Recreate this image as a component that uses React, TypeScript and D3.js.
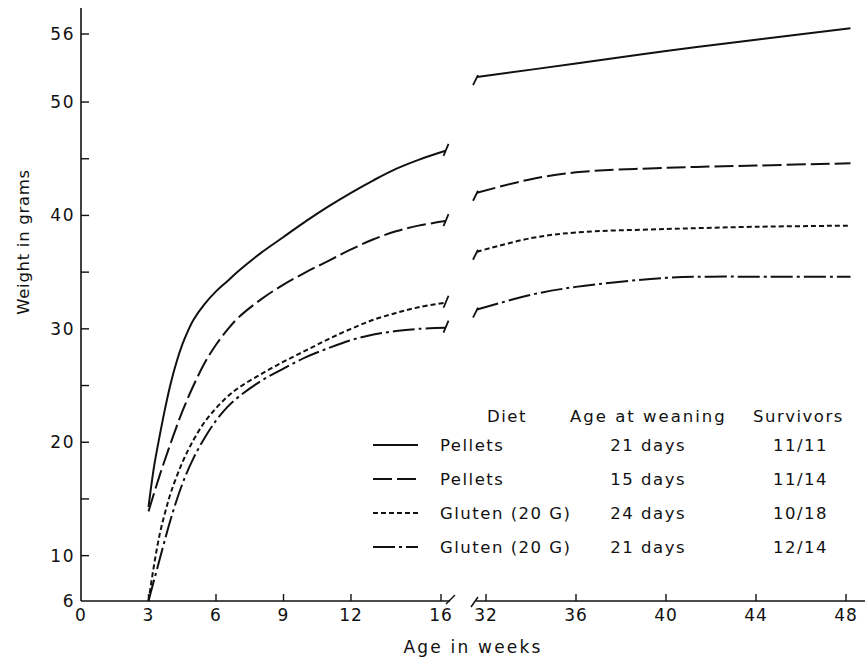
import React from "react";
import * as d3 from "d3";

const W = 865;
const H = 661;

// weeks, grams
const pellets21Left: [number, number][] = [
  [3, 14.3], [3.25, 17.9], [3.5, 20.6], [3.75, 23.1], [4, 25.3], [4.25, 27.1],
  [4.5, 28.6], [4.75, 29.8], [5, 30.8], [5.5, 32.2], [6, 33.3], [6.5, 34.2],
  [7, 35.1], [8, 36.7], [9, 38.1], [10, 39.5], [11, 40.8], [12, 42.0], [13, 43.1],
  [14, 44.1], [15, 44.9], [16.2, 45.7],
];
const pellets21Right: [number, number][] = [
  [31.6, 52.2], [36, 53.4], [40, 54.5], [44, 55.5], [48.2, 56.5],
];
const pellets15Left: [number, number][] = [
  [3, 13.9], [3.5, 17.1], [4, 20.0], [4.5, 22.7], [5, 25.0], [5.5, 27.0], [6, 28.6],
  [6.5, 29.9], [7, 31.0], [8, 32.6], [9, 33.9], [10, 35.0], [11, 36.0], [12, 37.0],
  [13, 37.9], [14, 38.6], [15, 39.1], [16.2, 39.5],
];
const pellets15Right: [number, number][] = [
  [31.6, 42.0], [34, 43.2], [36, 43.8], [40, 44.2], [44, 44.4], [48.2, 44.6],
];
const gluten24Left: [number, number][] = [
  [3, 6], [3.25, 9.2], [3.5, 11.9], [3.75, 13.9], [4, 15.6], [4.5, 18.2], [5, 20.2],
  [5.5, 21.8], [6, 23.0], [6.5, 24.0], [7, 24.8], [8, 26.0], [9, 27.1], [10, 28.1],
  [11, 29.1], [12, 30.0], [13, 30.8], [14, 31.4], [15, 31.9], [16.2, 32.3],
];
const gluten24Right: [number, number][] = [
  [31.6, 36.8], [34, 38.0], [36, 38.5], [40, 38.8], [44, 39.0], [48.2, 39.1],
];
const gluten21Left: [number, number][] = [
  [3, 6], [3.5, 9.7], [4, 13.3], [4.5, 16.3], [5, 18.6], [5.5, 20.4], [6, 21.9],
  [6.5, 23.1], [7, 24.0], [8, 25.4], [9, 26.5], [10, 27.5], [11, 28.3], [12, 29.0],
  [13, 29.5], [14, 29.8], [15, 30.0], [16.2, 30.1],
];
const gluten21Right: [number, number][] = [
  [31.6, 31.7], [34, 33.0], [36, 33.7], [40, 34.5], [42, 34.6], [44, 34.6], [48.2, 34.6],
];

const diets = ["Pellets", "Pellets", "Gluten (20 G)", "Gluten (20 G)"];
const weaningAges = ["21 days", "15 days", "24 days", "21 days"];
const survivors = ["11/11", "11/14", "10/18", "12/14"];

const xTicksLeft = [0, 3, 6, 9, 12, 16];
const xTicksRight = [32, 36, 40, 44, 48];
const yTicksMajor = [6, 10, 20, 30, 40, 50, 56];
const yTicksMinor = [15, 25, 35, 45];

const dashes = ["", "19 5", "5 3", "22 4 3 4"];

const series = [
  { left: pellets21Left, right: pellets21Right },
  { left: pellets15Left, right: pellets15Right },
  { left: gluten24Left, right: gluten24Right },
  { left: gluten21Left, right: gluten21Right },
];

const font = "'DejaVu Sans', sans-serif";
const ink = "#111";

export default function App() {
  const xL = d3.scaleLinear().domain([0, 16]).range([81, 441]);
  const xR = d3.scaleLinear().domain([32, 48]).range([486, 846]);
  const y = d3.scaleLinear().domain([6, 56]).range([601, 34]);

  const lineL = d3
    .line<[number, number]>()
    .x((d) => xL(d[0]))
    .y((d) => y(d[1]))
    .curve(d3.curveCatmullRom.alpha(0.5));
  const lineR = d3
    .line<[number, number]>()
    .x((d) => xR(d[0]))
    .y((d) => y(d[1]))
    .curve(d3.curveCatmullRom.alpha(0.5));

  const y0 = y(6);

  return (
    <svg
      width={W}
      height={H}
      style={{ position: "absolute", left: 0, top: 0, background: "#fff" }}
      fontFamily={font}
      fill={ink}
    >
      {/* y axis */}
      <line x1={81} x2={81} y1={y0} y2={y(58.3)} stroke={ink} strokeWidth={1.6} />
      {yTicksMajor.concat(yTicksMinor)
        .filter((t) => t !== 6)
        .map((t) => (
          <line key={"yt" + t} x1={81} x2={89} y1={y(t)} y2={y(t)} stroke={ink} strokeWidth={1.4} />
        ))}
      {yTicksMajor.map((t) => (
        <text key={"yl" + t} x={75} y={y(t) + 6} fontSize={17} textAnchor="end" letterSpacing={1.5}>
          {t}
        </text>
      ))}

      {/* x axis, broken */}
      <line x1={81} x2={450} y1={y0} y2={y0} stroke={ink} strokeWidth={1.6} />
      <line x1={476} x2={865} y1={y0} y2={y0} stroke={ink} strokeWidth={1.6} />
      <line x1={446} x2={455} y1={y0 + 3} y2={y0 - 6} stroke={ink} strokeWidth={1.5} />
      <line x1={471} x2={478} y1={y0 + 6} y2={y0 - 4} stroke={ink} strokeWidth={1.5} />
      {xTicksLeft
        .filter((t) => t !== 0)
        .map((t) => (
          <line key={"xt" + t} x1={xL(t)} x2={xL(t)} y1={y0} y2={y0 - 7} stroke={ink} strokeWidth={1.4} />
        ))}
      {xTicksRight.map((t) => (
        <line key={"xr" + t} x1={xR(t)} x2={xR(t)} y1={y0} y2={y0 - 7} stroke={ink} strokeWidth={1.4} />
      ))}
      {xTicksLeft.map((t) => (
        <text key={"xl" + t} x={xL(t)} y={621} fontSize={17} textAnchor="middle" letterSpacing={1}>
          {t}
        </text>
      ))}
      {xTicksRight.map((t) => (
        <text key={"xrl" + t} x={xR(t)} y={621} fontSize={17} textAnchor="middle" letterSpacing={1}>
          {t}
        </text>
      ))}

      {/* axis titles */}
      <text x={473} y={653} fontSize={17} textAnchor="middle" letterSpacing={2.2}>
        Age in weeks
      </text>
      <text
        transform="translate(29,242) rotate(-90)"
        fontSize={16.5}
        textAnchor="middle"
        letterSpacing={0.7}
      >
        Weight in grams
      </text>

      {/* curves */}
      {series.map((s, i) => {
        const a = s.left[s.left.length - 1];
        const b = s.right[0];
        const ax = xL(a[0]);
        const ay = y(a[1]);
        const bx = xR(b[0]);
        const by = y(b[1]);
        return (
          <g key={"s" + i} fill="none" stroke={ink} strokeWidth={2}>
            <path d={lineL(s.left) || ""} strokeDasharray={dashes[i]} />
            <path d={lineR(s.right) || ""} strokeDasharray={dashes[i]} />
            <line x1={ax - 2} y1={ay + 5} x2={ax + 3} y2={ay - 7} strokeWidth={1.8} />
            <line x1={bx - 4} y1={by + 8} x2={bx + 1} y2={by - 2} strokeWidth={1.8} />
          </g>
        );
      })}

      {/* legend table */}
      <g fontSize={16.5} letterSpacing={1.5}>
        <text x={487} y={422}>Diet</text>
        <text x={570} y={422} letterSpacing={2}>Age at weaning</text>
        <text x={753} y={422}>Survivors</text>
        {diets.map((d, i) => {
          const cy = 445 + i * 34;
          return (
            <g key={"lg" + i}>
              <line
                x1={373}
                x2={418}
                y1={cy}
                y2={cy}
                stroke={ink}
                strokeWidth={2}
                strokeDasharray={dashes[i]}
              />
              <text x={440} y={cy + 6}>{d}</text>
              <text x={686} y={cy + 6} textAnchor="end">{weaningAges[i]}</text>
              <text x={773} y={cy + 6}>{survivors[i]}</text>
            </g>
          );
        })}
      </g>
    </svg>
  );
}
